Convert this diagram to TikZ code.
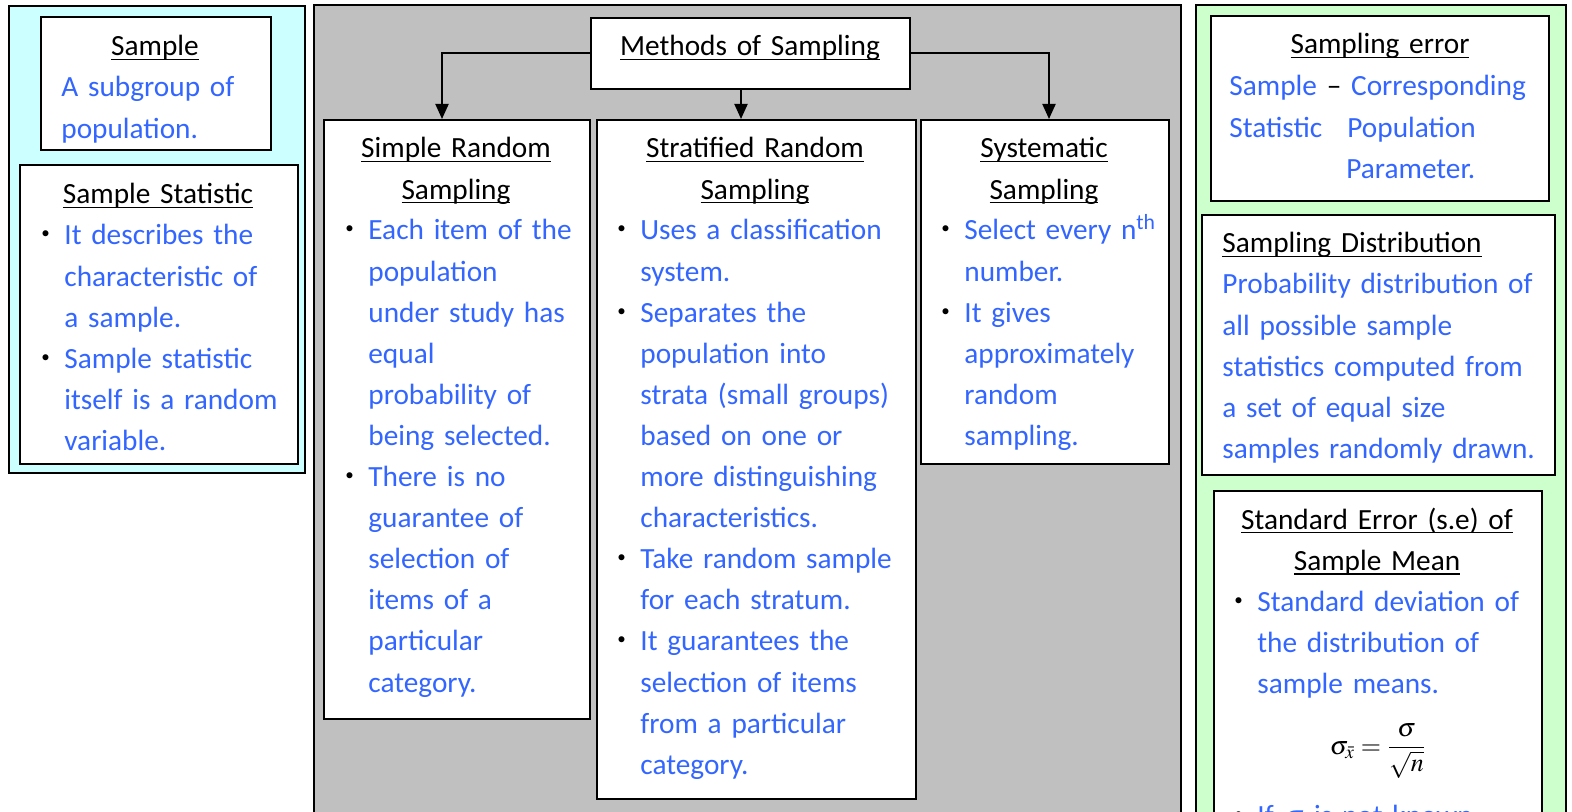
\documentclass[tikz,border=0pt]{standalone}
\usepackage{mathptmx}
\usepackage{amsmath}
\usepackage[no-math]{fontspec}
\setmainfont{Carlito}
\usetikzlibrary{arrows.meta}

\definecolor{sblue}{RGB}{51,102,255}
\definecolor{panelcyan}{RGB}{204,255,255}
\definecolor{panelgray}{RGB}{192,192,192}
\definecolor{panelgreen}{RGB}{204,255,204}

\newsavebox{\ulbox}
\newcommand{\uln}[1]{\leavevmode\sbox{\ulbox}{#1}\rlap{\rule[-2.2pt]{\wd\ulbox}{0.8pt}}\usebox{\ulbox}}
\newcommand{\blt}{\makebox[11.5pt][l]{\raisebox{3pt}{\color{black}\fontsize{8.5}{8.5}\selectfont\textbullet}}}
\newcommand{\hng}{\hspace*{11.5pt}}

\begin{document}
\begin{tikzpicture}[x=0.5pt,y=-0.5pt]
	\tikzstyle{box} = [draw, line width=1pt, fill=white, inner sep=0pt, anchor=north west]
	\tikzstyle{title} = [inner sep=0pt, anchor=base, text width=170pt, align=center, font=\fontsize{14.65}{20.55}\selectfont]
	\tikzstyle{body} = [inner sep=0pt, anchor=base west, text width=175pt, align=left, text=sblue, font=\fontsize{14.65}{20.55}\selectfont]
	\tikzstyle{arr} = [line width=1pt, -{Triangle[length=7.5pt,width=6.5pt]}]

	\useasboundingbox (0,0) rectangle (1572,812);
	\clip (0,0) rectangle (1572,812);
	\fill[white] (0,0) rectangle (1572,812);

	% left panel
	\draw[line width=1pt, fill=panelcyan] (9,6) rectangle (305,473);
	\node[box, minimum width=115pt, minimum height=66.5pt] (sample) at (40,16) {};
	\node[title] (sampleT) at (155,56) {\uln{Sample}};
	\node[body] (sampleB) at (61,97) {A subgroup of\\population.};

	\node[box, minimum width=139pt, minimum height=149.5pt] (stat) at (19,164) {};
	\node[title] (statT) at (158,204) {\uln{Sample Statistic}};
	\node[body] (statB) at (41,245) {\blt It describes the\\\hng characteristic of\\\hng a sample.\\\blt Sample statistic\\\hng itself is a random\\\hng variable.};

	% middle panel
	\draw[line width=1pt, fill=panelgray] (314,5) rectangle (1181,840);
	\node[box, minimum width=159.5pt, minimum height=35.5pt] (methods) at (590,17) {};
	\node[title] (methodsT) at (750,56) {\uln{Methods of Sampling}};

	\node[box, minimum width=133pt, minimum height=299.5pt] (simple) at (323,119) {};
	\node[title] (simpleT) at (456,158) {\uln{Simple Random}\\\uln{Sampling}};
	\node[body] (simpleB) at (345,240) {\blt Each item of the\\\hng population\\\hng under study has\\\hng equal\\\hng probability of\\\hng being selected.\\\blt There is no\\\hng guarantee of\\\hng selection of\\\hng items of a\\\hng particular\\\hng category.};

	\node[box, minimum width=159.5pt, minimum height=339.5pt] (strat) at (596,119) {};
	\node[title] (stratT) at (755,158) {\uln{Stratified Random}\\\uln{Sampling}};
	\node[body] (stratB) at (617,240) {\blt Uses a classification\\\hng system.\\\blt Separates the\\\hng population into\\\hng strata (small groups)\\\hng based on one or\\\hng more distinguishing\\\hng characteristics.\\\blt Take random sample\\\hng for each stratum.\\\blt It guarantees the\\\hng selection of items\\\hng from a particular\\\hng category.};

	\node[box, minimum width=124pt, minimum height=172pt] (syst) at (920,119) {};
	\node[title] (systT) at (1044,158) {\uln{Systematic}\\\uln{Sampling}};
	\node[body] (systB) at (941,240) {\blt Select every n\textsuperscript{th}\\\hng number.\\\blt It gives\\\hng approximately\\\hng random\\\hng sampling.};

	\draw[arr] (methods.west) -| ([xshift=-7.5pt]simple.north);
	\draw[arr] ([xshift=-4.75pt]methods.south) -- ([xshift=-4.75pt]methods.south |- strat.north);
	\draw[arr] (methods.east) -| ([xshift=2pt]syst.north);

	% right panel
	\draw[line width=1pt, fill=panelgreen] (1196,5) rectangle (1566,840);
	\node[box, minimum width=169pt, minimum height=92.5pt] (err) at (1210,15) {};
	\node[title] (errT) at (1380,54) {\uln{Sampling error}};
	\node[body] (errB) at (1229,96) {Sample \textcolor{black}{–} Corresponding\\\makebox[59pt][l]{Statistic}Population\\\hspace*{58.5pt}Parameter.};

	\node[box, minimum width=176.5pt, minimum height=130pt] (dist) at (1201,214) {};
	\node[body, text=black] (distT) at (1222,253) {\uln{Sampling Distribution}};
	\node[body] (distB) at (1222,294) {Probability distribution of\\all possible sample\\statistics computed from\\a set of equal size\\samples randomly drawn.};

	\node[box, minimum width=164pt, minimum height=200pt] (se) at (1213,490) {};
	\node[title] (seT) at (1377,529) {\uln{Standard Error (s.e) of}\\\uln{Sample Mean}};
	\node[body] (seB) at (1234,611) {\blt Standard deviation of\\\hng the distribution of\\\hng sample means.};
	\node[inner sep=0pt, font=\fontsize{13}{15}\selectfont] (seF) at (1378,751) {$\sigma_{\bar{x}}=\dfrac{\sigma}{\sqrt{n}}$};
	\node[body] (seC) at (1234,825) {\blt If $\sigma$ is not known};
\end{tikzpicture}
\end{document}
